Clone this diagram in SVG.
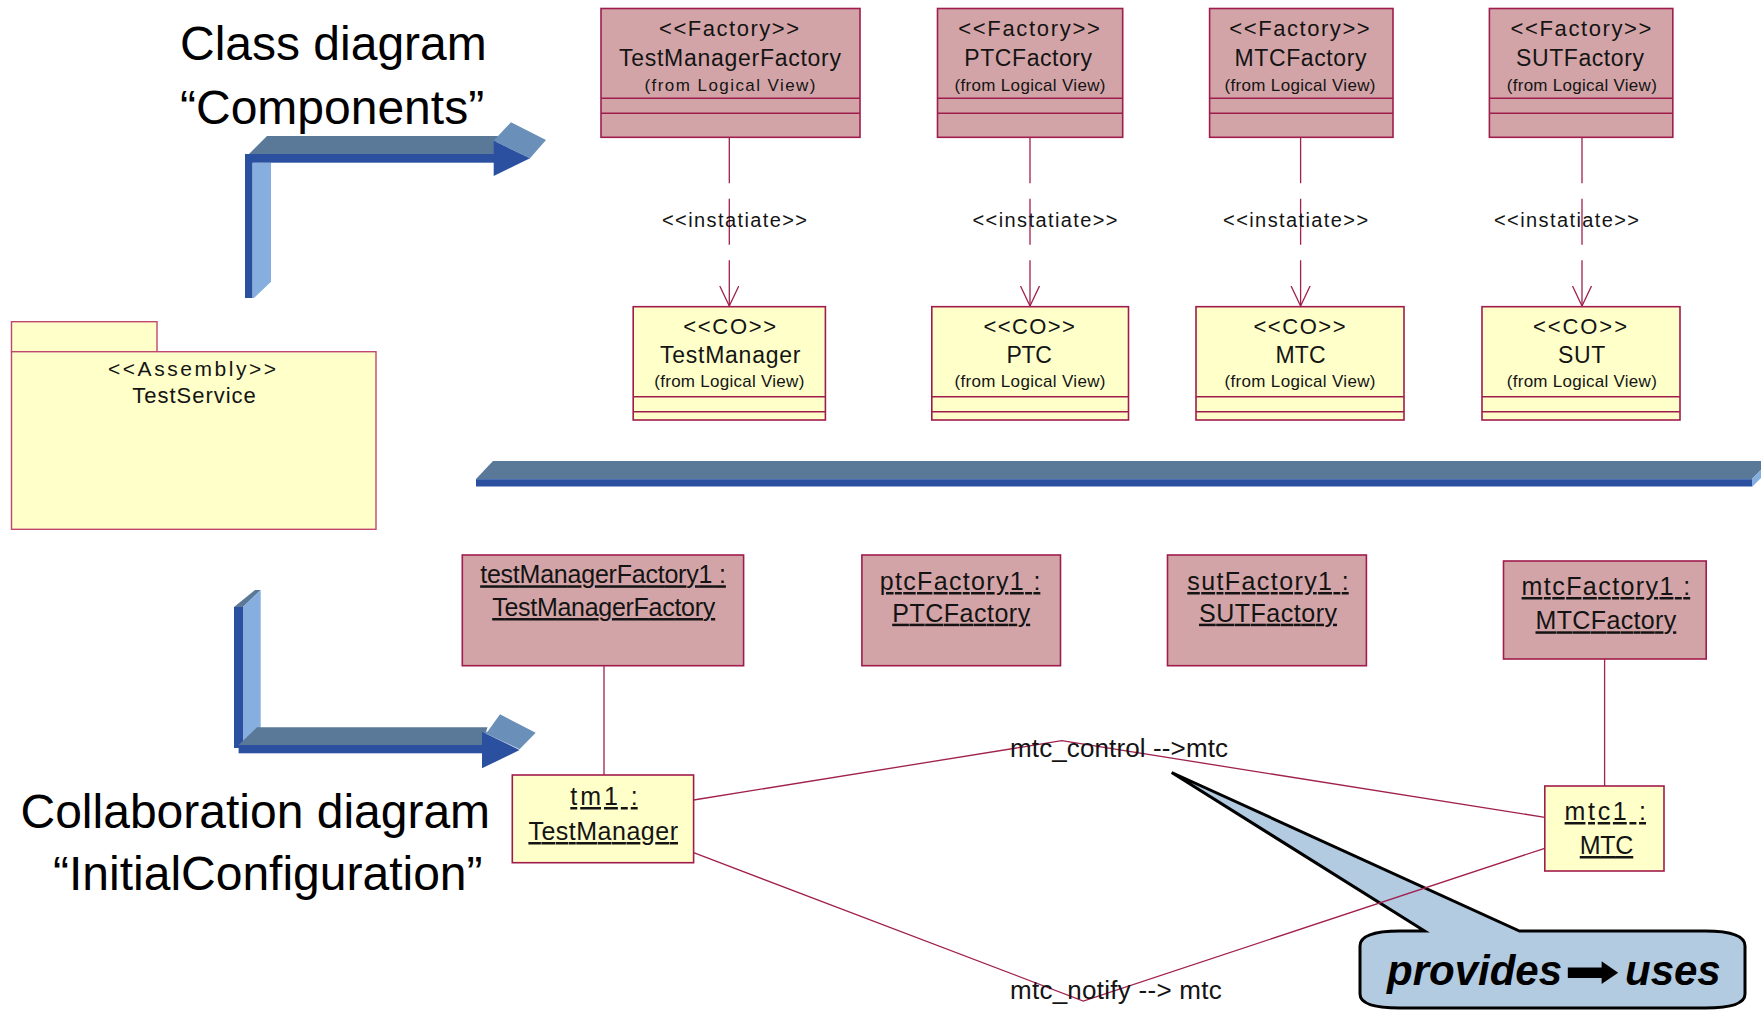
<svg xmlns="http://www.w3.org/2000/svg" width="1761" height="1010" viewBox="0 0 1761 1010">
<defs>
<style>
  text{font-family:"Liberation Sans",Arial,Helvetica,sans-serif;fill:#141414}
  .title{font-size:48px;fill:#000}
  .fac{fill:#D3A4A7;stroke:#A01C4C;stroke-width:1.6}
  .co{fill:#FFFFCA;stroke:#A01C4C;stroke-width:1.6}
  .pkg{fill:#FFFFCA;stroke:#C0486E;stroke-width:1.4}
  .div{stroke:#A01C4C;stroke-width:1.4}
  .st{font-size:22px;text-anchor:middle}
  .nm{font-size:23px;text-anchor:middle}
  .fr{font-size:17px;text-anchor:middle}
  .obj{font-size:25px;text-anchor:middle;text-decoration:underline}
  .lbl{font-size:20px;text-anchor:middle}
  .role{font-size:26px}
  .note{font-size:42px;font-weight:bold;font-style:italic;fill:#000}
  .dep{stroke:#A0204E;stroke-width:1.3;fill:none;stroke-dasharray:46 15.5;marker-end:url(#open)}
  .link{stroke:#A0204E;stroke-width:1.3;fill:none}
  .topf{fill:#5A7998}
  .front{fill:#2B50A0}
  .side{fill:#86AFDF}
  .head{fill:#6A90BA}
</style>
<marker id="open" markerUnits="userSpaceOnUse" viewBox="0 0 24 24" markerWidth="24" markerHeight="24" refX="20" refY="10" orient="auto">
  <path d="M0,0.5 L20,10 L0,19.5" fill="none" stroke="#A0204E" stroke-width="1.3"/>
</marker>
</defs>
<rect width="1761" height="1010" fill="#fff"/>

<!-- section titles -->
<g id="title-class">
  <text class="title" x="180" y="60">Class diagram</text>
  <text class="title" x="180" y="124">“Components”</text>
</g>
<g id="title-collab">
  <text class="title" x="20.5" y="828">Collaboration diagram</text>
  <text class="title" x="53" y="890">“InitialConfiguration”</text>
</g>

<!-- bent 3D arrow pointing to the class diagram -->
<g id="arrow-class">
  <polygon class="front" points="245,154 252.6,154 252.6,298 245,298"/>
  <polygon class="side" points="252.6,162.7 271,162.7 271,281.7 254,298 252.6,298"/>
  <polygon class="topf" points="249,154 267,136 498,136 494,154"/>
  <rect class="front" x="249" y="154" width="245" height="8.7"/>
  <polygon class="head" points="493.7,140.7 498,136 511,122.3 546,140 530,158.3"/>
  <polygon class="front" points="493.7,140.7 530,158.3 493.7,176"/>
</g>

<!-- bent 3D arrow pointing to the collaboration diagram -->
<g id="arrow-collab">
  <polygon class="front" points="234,607 243,607 243,748 234,748"/>
  <polygon class="topf" points="234,607 255,590 260.7,590 243,607"/>
  <polygon class="side" points="243,607 260.7,590 260.7,727.3 243,745"/>
  <polygon class="topf" points="238.6,745 257,727.3 487.5,727.3 482,745"/>
  <rect class="front" x="238.6" y="745" width="243.4" height="8.3"/>
  <polygon class="head" points="482,731.7 487.5,731.7 500,714.3 535.7,732.7 519.6,749.3"/>
  <polygon class="front" points="482,731.7 519.6,750 482,768.3"/>
</g>

<!-- separator bar between the two diagrams -->
<g id="separator">
  <polygon class="topf" points="476,479 493,461 1770,461 1752,479"/>
  <rect class="front" x="476" y="479" width="1276" height="7.5"/>
  <line x1="476" y1="479.5" x2="1752" y2="479.5" stroke="#4A6FB4" stroke-width="1"/>
  <polygon class="side" points="1752,479 1770,461 1770,469 1752,487"/>
</g>

<!-- package -->
<g id="pkg-testservice">
  <rect class="pkg" x="11.5" y="321.7" width="145.5" height="30"/>
  <rect class="pkg" x="11.5" y="351.7" width="364.5" height="177.6"/>
  <text class="lbl" x="192" y="376" style="font-size:21px" textLength="168">&lt;&lt;Assembly&gt;&gt;</text>
  <text class="nm" x="194" y="403.3" style="font-size:22px" textLength="123.6">TestService</text>
</g>

<!-- factory classes -->
<g id="cls-testmanagerfactory">
  <rect class="fac" x="601" y="8.5" width="259" height="128.8"/>
  <line class="div" x1="601" y1="98.3" x2="860" y2="98.3"/>
  <line class="div" x1="601" y1="113.3" x2="860" y2="113.3"/>
  <text class="st" x="729" y="35.7" textLength="140">&lt;&lt;Factory&gt;&gt;</text>
  <text class="nm" x="730" y="65.5" textLength="222">TestManagerFactory</text>
  <text class="fr" x="730" y="90.7" textLength="171">(from Logical View)</text>
</g>
<g id="cls-ptcfactory">
  <rect class="fac" x="937.5" y="8.5" width="185.2" height="128.8"/>
  <line class="div" x1="937.5" y1="98.3" x2="1122.7" y2="98.3"/>
  <line class="div" x1="937.5" y1="113.3" x2="1122.7" y2="113.3"/>
  <text class="st" x="1029" y="35.7" textLength="141.6">&lt;&lt;Factory&gt;&gt;</text>
  <text class="nm" x="1028.2" y="65.5" textLength="127.8">PTCFactory</text>
  <text class="fr" x="1030" y="90.7" textLength="151">(from Logical View)</text>
</g>
<g id="cls-mtcfactory">
  <rect class="fac" x="1209.6" y="8.5" width="183.4" height="128.8"/>
  <line class="div" x1="1209.6" y1="98.3" x2="1393" y2="98.3"/>
  <line class="div" x1="1209.6" y1="113.3" x2="1393" y2="113.3"/>
  <text class="st" x="1299.5" y="35.7" textLength="140.4">&lt;&lt;Factory&gt;&gt;</text>
  <text class="nm" x="1300.5" y="65.5" textLength="131.9">MTCFactory</text>
  <text class="fr" x="1300" y="90.7" textLength="150.8">(from Logical View)</text>
</g>
<g id="cls-sutfactory">
  <rect class="fac" x="1489.4" y="8.5" width="183.4" height="128.8"/>
  <line class="div" x1="1489.4" y1="98.3" x2="1672.8" y2="98.3"/>
  <line class="div" x1="1489.4" y1="113.3" x2="1672.8" y2="113.3"/>
  <text class="st" x="1581" y="35.7" textLength="140.8">&lt;&lt;Factory&gt;&gt;</text>
  <text class="nm" x="1580" y="65.5" textLength="127.9">SUTFactory</text>
  <text class="fr" x="1581.8" y="90.7" textLength="150">(from Logical View)</text>
</g>

<!-- component object classes -->
<g id="cls-testmanager">
  <rect class="co" x="633.2" y="306.7" width="192.2" height="113.3"/>
  <line class="div" x1="633.2" y1="396.7" x2="825.4" y2="396.7"/>
  <line class="div" x1="633.2" y1="411.7" x2="825.4" y2="411.7"/>
  <text class="st" x="729.7" y="334" textLength="93">&lt;&lt;CO&gt;&gt;</text>
  <text class="nm" x="730.2" y="363.3" textLength="140.5">TestManager</text>
  <text class="fr" x="729.3" y="387.3" textLength="150">(from Logical View)</text>
</g>
<g id="cls-ptc">
  <rect class="co" x="931.8" y="306.7" width="196.7" height="113.3"/>
  <line class="div" x1="931.8" y1="396.7" x2="1128.5" y2="396.7"/>
  <line class="div" x1="931.8" y1="411.7" x2="1128.5" y2="411.7"/>
  <text class="st" x="1029.2" y="334" textLength="91.5">&lt;&lt;CO&gt;&gt;</text>
  <text class="nm" x="1029.2" y="363.3" textLength="45.6">PTC</text>
  <text class="fr" x="1030" y="387.3" textLength="151">(from Logical View)</text>
</g>
<g id="cls-mtc">
  <rect class="co" x="1196" y="306.7" width="208" height="113.3"/>
  <line class="div" x1="1196" y1="396.7" x2="1404" y2="396.7"/>
  <line class="div" x1="1196" y1="411.7" x2="1404" y2="411.7"/>
  <text class="st" x="1299.5" y="334" textLength="92.2">&lt;&lt;CO&gt;&gt;</text>
  <text class="nm" x="1300.6" y="363.3" textLength="50">MTC</text>
  <text class="fr" x="1300" y="387.3" textLength="150.8">(from Logical View)</text>
</g>
<g id="cls-sut">
  <rect class="co" x="1482" y="306.7" width="198" height="113.3"/>
  <line class="div" x1="1482" y1="396.7" x2="1680" y2="396.7"/>
  <line class="div" x1="1482" y1="411.7" x2="1680" y2="411.7"/>
  <text class="st" x="1580" y="334" textLength="94">&lt;&lt;CO&gt;&gt;</text>
  <text class="nm" x="1581.6" y="363.3" textLength="47.4">SUT</text>
  <text class="fr" x="1581.8" y="387.3" textLength="150">(from Logical View)</text>
</g>

<!-- collaboration objects -->
<g id="obj-testmanagerfactory1">
  <rect class="fac" x="462.3" y="555" width="281.3" height="110.7"/>
  <text class="obj" x="603" y="583.3" textLength="245.7">testManagerFactory1 :</text>
  <text class="obj" x="603.7" y="616" textLength="223">TestManagerFactory</text>
</g>
<g id="obj-ptcfactory1">
  <rect class="fac" x="861.9" y="555" width="198.6" height="110.7"/>
  <text class="obj" x="960" y="590" textLength="160.7">ptcFactory1 :</text>
  <text class="obj" x="961.2" y="621.7" textLength="138">PTCFactory</text>
</g>
<g id="obj-sutfactory1">
  <rect class="fac" x="1167.5" y="555" width="198.9" height="110.7"/>
  <text class="obj" x="1268" y="590" textLength="161.4">sutFactory1 :</text>
  <text class="obj" x="1268" y="621.7" textLength="138">SUTFactory</text>
</g>
<g id="obj-mtcfactory1">
  <rect class="fac" x="1503.5" y="561" width="202.7" height="98"/>
  <text class="obj" x="1605.9" y="595" textLength="168.6">mtcFactory1 :</text>
  <text class="obj" x="1605.9" y="629.3" textLength="140.8">MTCFactory</text>
</g>
<g id="obj-tm1">
  <rect class="co" x="512.3" y="775" width="181.3" height="87.7"/>
  <text class="obj" x="604" y="805" textLength="67.4">tm1 :</text>
  <text class="obj" x="603.2" y="840" textLength="149.6">TestManager</text>
</g>
<g id="obj-mtc1">
  <rect class="co" x="1544.8" y="786" width="119.2" height="85"/>
  <text class="obj" x="1605.3" y="820" textLength="81.4">mtc1 :</text>
  <text class="obj" x="1606.5" y="854" textLength="53.5">MTC</text>
</g>

<!-- speech bubble note -->
<g id="note-provides-uses">
  <path d="M1424.6,931 L1171.7,772.5 L1519.5,931 L1705,931 Q1745,931 1745,946 L1745,994 Q1745,1008 1705,1008 L1400,1008 Q1360,1008 1360,994 L1360,946 Q1360,931 1400,931 Z" fill="#B3CBE1" stroke="#000" stroke-width="3" stroke-linejoin="miter"/>
  <text class="note" x="1387" y="985">provides</text>
  <text x="1564" y="987" textLength="56" lengthAdjust="spacingAndGlyphs" style="font-family:'DejaVu Sans',sans-serif;font-size:46px;fill:#000">➡</text>
  <text class="note" x="1625" y="985">uses</text>
</g>

<!-- connectors -->
<g id="connectors">
  <line class="dep" x1="729.3" y1="137.3" x2="729.3" y2="306"/>
  <line class="dep" x1="1030" y1="137.3" x2="1030" y2="306"/>
  <line class="dep" x1="1300.6" y1="137.3" x2="1300.6" y2="306"/>
  <line class="dep" x1="1582" y1="137.3" x2="1582" y2="306"/>
  <line class="link" x1="604" y1="665.7" x2="604" y2="775"/>
  <line class="link" x1="1604.6" y1="659" x2="1604.6" y2="786"/>
  <polyline class="link" points="693.6,800 1061.7,740.7 1544.8,817.3"/>
  <polyline class="link" points="693.6,852.7 1083.3,1001 1544.8,848.3"/>
</g>

<!-- connector labels -->
<g id="labels">
  <text class="lbl" x="734.5" y="227" textLength="145">&lt;&lt;instatiate&gt;&gt;</text>
  <text class="lbl" x="1045" y="227" textLength="145">&lt;&lt;instatiate&gt;&gt;</text>
  <text class="lbl" x="1295.6" y="227" textLength="145">&lt;&lt;instatiate&gt;&gt;</text>
  <text class="lbl" x="1566.5" y="227" textLength="145">&lt;&lt;instatiate&gt;&gt;</text>
  <text class="role" x="1010" y="756.5" textLength="218">mtc_control --&gt;mtc</text>
  <text class="role" x="1010" y="998.5" textLength="211.7">mtc_notify --&gt; mtc</text>
</g>
</svg>
